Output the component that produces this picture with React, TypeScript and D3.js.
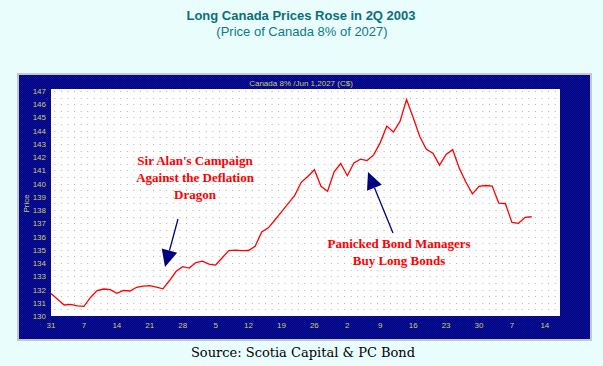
import React from "react";
import { scaleLinear, line, range } from "d3";

// one price per trading day, 31 Mar 2003 .. 10 Jul 2003
const prices = [
  131.7, 131.27, 130.83, 130.88, 130.76, 130.73, 131.4, 131.92, 132.04, 131.99,
  131.71, 131.94, 131.89, 132.17, 132.25, 132.29, 132.18, 132.05, 132.68, 133.38,
  133.73, 133.62, 134.04, 134.15, 133.92, 133.85, 134.4, 134.94, 134.97, 134.94,
  134.95, 135.27, 136.35, 136.66, 137.25, 137.86, 138.49, 139.1, 140.1, 140.54,
  141.05, 139.8, 139.43, 140.9, 141.52, 140.6, 141.57, 141.85, 141.74, 142.17,
  143.1, 144.35, 143.9, 144.7, 146.35, 145.0, 143.56, 142.6, 142.3, 141.4,
  142.2, 142.57, 141.17, 140.12, 139.23, 139.8, 139.86, 139.82, 138.53, 138.5,
  137.07, 137.0, 137.45, 137.5,
];

// Monday labels, every 5 trading days
const xTickLabels = ["31", "7", "14", "21", "28", "5", "12", "19", "26", "2", "9", "16", "23", "30", "7", "14"];
const yTicks = [130, 131, 132, 133, 134, 135, 136, 137, 138, 139, 140, 141, 142, 143, 144, 145, 146, 147];

const title = "Long Canada Prices Rose in 2Q 2003";
const subtitle = "(Price of Canada 8% of 2027)";
const header = "Canada 8% /Jun 1,2027 (C$)";
const note1 = ["Sir Alan's Campaign", "Against the Deflation", "Dragon"];
const note2 = ["Panicked Bond Managers", "Buy Long Bonds"];
const source = "Source: Scotia Capital & PC Bond";

const W = 603;
const H = 366;
const plot = { left: 51, right: 560, top: 89, bottom: 316 };

const navy = "#000080";
const yellow = "#CDCD6E";
const sans = "'Liberation Sans', Arial, sans-serif";
const serif = "'Liberation Serif', 'Times New Roman', serif";

const Arrow = ({ x1, y1, x2, y2 }: { x1: number; y1: number; x2: number; y2: number }) => {
  const a = Math.atan2(y2 - y1, x2 - x1);
  const len = 17;
  const half = 8;
  const bx = x2 - len * Math.cos(a);
  const by = y2 - len * Math.sin(a);
  const px = -Math.sin(a) * half;
  const py = Math.cos(a) * half;
  return (
    <g>
      <line x1={x1} y1={y1} x2={bx} y2={by} stroke={navy} strokeWidth={1.3} />
      <path d={`M${x2},${y2}L${bx + px},${by + py}L${bx - px},${by - py}Z`} fill={navy} />
    </g>
  );
};

const App = () => {
  const x = scaleLinear().domain([0, 77.3]).range([plot.left, plot.right]);
  const y = scaleLinear().domain([130, 147.15]).range([plot.bottom, plot.top]);

  const path = line<number>()
    .x((d, i) => x(i))
    .y((d) => y(d))(prices);

  const dx = x(1) - x(0);
  const dotRows = range(130.5, 147.01, 0.5);

  return (
    <svg width={W} height={H} style={{ position: "absolute", left: 0, top: 0 }}>
      <defs>
        <pattern id="dither" width={2} height={2} patternUnits="userSpaceOnUse">
          <rect width={2} height={2} fill={navy} />
          <rect width={1} height={1} fill="#0c1496" />
          <rect x={1} y={1} width={1} height={1} fill="#0c1496" />
        </pattern>
      </defs>
      <rect width={W} height={H} fill="#EAFDFD" />

      <text x={301} y={20} textAnchor="middle" fontFamily={sans} fontSize={13} fontWeight="bold" fill="#0a6e78">
        {title}
      </text>
      <text x={302} y={36} textAnchor="middle" fontFamily={sans} fontSize={13} fill="#0a7a84">
        {subtitle}
      </text>

      <rect x={17} y={73} width={575} height={268} fill="#c8c8c8" />
      <rect x={19} y={75} width={571} height={264} fill="url(#dither)" />
      <text x={301} y={86} textAnchor="middle" fontFamily={sans} fontSize={8} fill={yellow}>
        {header}
      </text>

      <rect x={plot.left} y={plot.top} width={plot.right - plot.left} height={plot.bottom - plot.top} fill="#ffffff" />
      {dotRows.map((v) => (
        <line
          key={v}
          x1={plot.left + dx / 2}
          x2={plot.right}
          y1={Math.round(y(v)) + 0.5}
          y2={Math.round(y(v)) + 0.5}
          stroke="#b4b4b4"
          strokeWidth={1}
          strokeDasharray={`1 ${dx - 1}`}
        />
      ))}

      {yTicks.map((t) => (
        <text key={t} x={46} y={y(t) + 3} textAnchor="end" fontFamily={sans} fontSize={8} fill={yellow}>
          {t}
        </text>
      ))}
      <text
        transform={`translate(29,${y(138.5)}) rotate(-90)`}
        textAnchor="middle"
        fontFamily={sans}
        fontSize={8}
        fill={yellow}
      >
        Price
      </text>
      {xTickLabels.map((t, i) => (
        <text key={i} x={x(i * 5)} y={328} textAnchor="middle" fontFamily={sans} fontSize={8} fill={yellow}>
          {t}
        </text>
      ))}

      <path d={path || ""} fill="none" stroke="#ff0000" strokeWidth={1.3} />

      {note1.map((s, i) => (
        <text key={s} x={195} y={165 + i * 17} textAnchor="middle" fontFamily={serif} fontSize={13} fontWeight="bold" fill="#ff0000">
          {s}
        </text>
      ))}
      {note2.map((s, i) => (
        <text key={s} x={399} y={248 + i * 17} textAnchor="middle" fontFamily={serif} fontSize={13} fontWeight="bold" fill="#ff0000">
          {s}
        </text>
      ))}
      <Arrow x1={178} y1={219} x2={165} y2={267} />
      <Arrow x1={393} y1={233} x2={368} y2={172} />

      <text x={303} y={357} textAnchor="middle" fontFamily="'DejaVu Serif', serif" fontSize={13} fill="#000000">
        {source}
      </text>
    </svg>
  );
};

export default App;
